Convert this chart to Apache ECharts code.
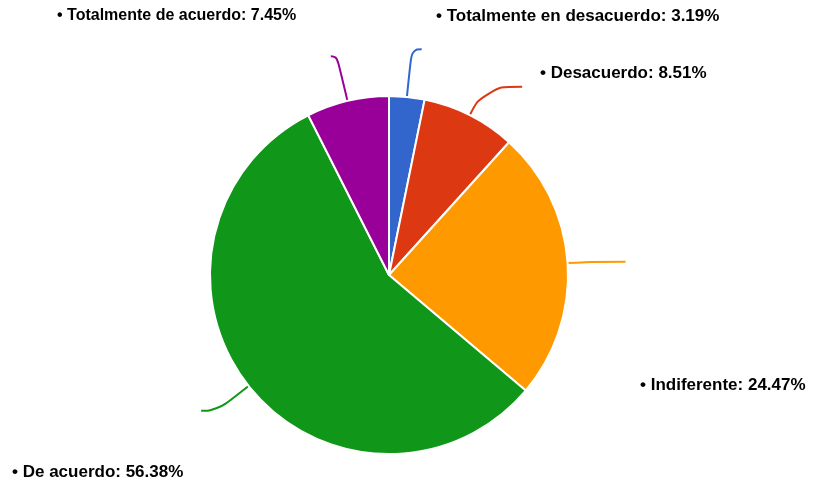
<!DOCTYPE html>
<html>
<head>
<meta charset="utf-8">
<script src="https://cdn.jsdelivr.net/npm/echarts@6/dist/echarts.min.js"></script>
<style>
html,body{margin:0;padding:0;background:#fff;}
#chart{width:813px;height:485px;}
</style>
</head>
<body>
<div id="chart"></div>
<script>
const categories = ['Totalmente en desacuerdo', 'Desacuerdo', 'Indiferente', 'De acuerdo', 'Totalmente de acuerdo'];
const values = [3.19, 8.51, 24.47, 56.38, 7.45];
const colors = ['#3366cc', '#dc3912', '#ff9900', '#109618', '#990099'];

// label line lengths per slice [radial, horizontal]
const lineLens = [[48, 10], [32, 38], [18, 40], [40, 16], [46, 6]];
// label text placement (left, middle y, font size)
const labelPos = [[436, 17, 17], [540, 74, 17], [640, 386, 17], [12, 473, 17], [57, 17, 16]];

const chart = echarts.init(document.getElementById('chart'));

const data = categories.map((c, i) => ({
  name: c,
  value: values[i],
  itemStyle: { color: colors[i] },
  labelLine: { length: lineLens[i][0], length2: lineLens[i][1] }
}));

const texts = categories.map((c, i) => ({
  type: 'text',
  left: labelPos[i][0],
  top: labelPos[i][1] - labelPos[i][2] / 2 - 1,
  style: {
    text: '\u2022 ' + c + ': ' + values[i].toFixed(2) + '%',
    font: 'bold ' + labelPos[i][2] + 'px "Liberation Sans", Arial, sans-serif',
    fill: '#000'
  }
}));

chart.setOption({
  animation: false,
  backgroundColor: '#fff',
  graphic: texts,
  series: [{
    type: 'pie',
    center: [389, 275],
    radius: 179,
    startAngle: 90,
    clockwise: true,
    avoidLabelOverlap: false,
    data: data,
    itemStyle: { borderColor: '#fff', borderWidth: 2 },
    label: { show: true, formatter: ' ', fontSize: 1 },
    labelLine: { show: true, smooth: 0.5, lineStyle: { width: 2 } },
    emphasis: { disabled: true }
  }]
});
</script>
</body>
</html>
